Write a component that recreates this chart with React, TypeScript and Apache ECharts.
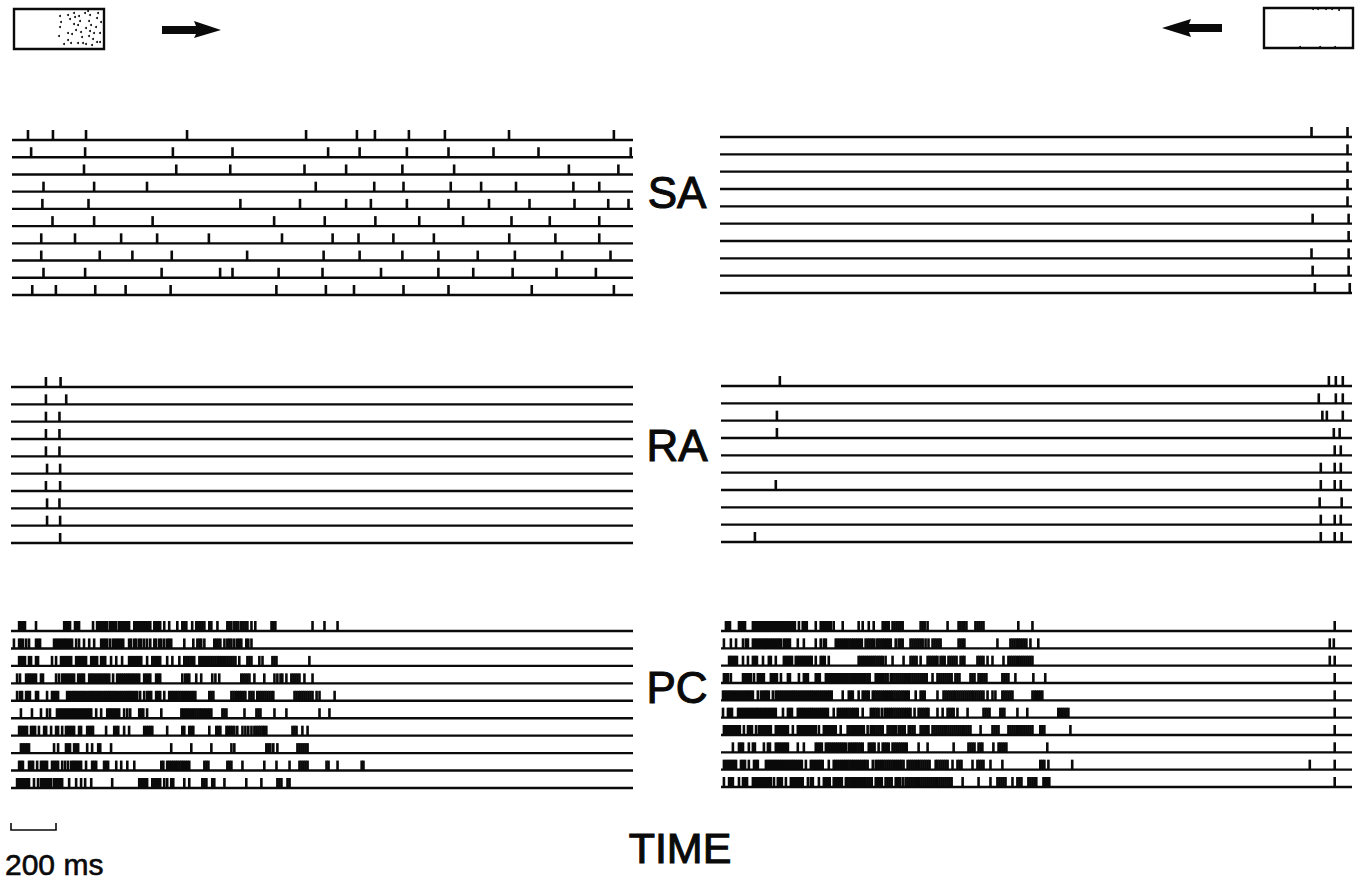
import React, { useEffect, useRef } from "react";
import * as echarts from "echarts";

// Spike times (ms) per trial, top trial first. Left = stimulus moving right, right = moving left.
const SA_LEFT = [
  [71, 182, 329, 778, 1307, 1533, 1613, 1764, 1924, 2209, 2675],
  [85, 325, 715, 980, 1405, 1545, 1755, 1940, 2140, 2340, 2750],
  [320, 730, 970, 1300, 1485, 1735, 1965, 2475, 2695],
  [140, 365, 600, 1350, 1610, 1740, 1950, 2085, 2240, 2495, 2610],
  [135, 340, 1015, 1280, 1485, 1595, 1755, 1940, 2120, 2300, 2500, 2650, 2740],
  [180, 365, 625, 1165, 1390, 1615, 1810, 2005, 2220, 2390, 2610],
  [130, 280, 485, 645, 875, 1200, 1425, 1540, 1695, 1875, 2210, 2415, 2610],
  [130, 390, 535, 710, 1045, 1385, 1545, 1735, 1895, 2070, 2235, 2445, 2660],
  [140, 325, 665, 925, 980, 1185, 1380, 1640, 1895, 2050, 2225, 2420, 2595],
  [90, 195, 370, 505, 705, 1175, 1395, 1520, 1740, 1940, 2310, 2675],
];
const SA_RIGHT = [
  [2630, 2790], [2790], [2790], [2790], [2790],
  [2635, 2795], [2795], [2630, 2795], [2635, 2795], [2645, 2800],
];
const RA_LEFT = [
  [155, 220], [155, 245], [155, 215], [155, 215], [155, 215],
  [160, 218], [155, 218], [160, 215], [160, 218], [218],
];
const RA_RIGHT = [
  [262, 2707, 2738, 2769],
  [2662, 2738, 2769],
  [249, 2678, 2698, 2769],
  [249, 2729, 2755],
  [2733, 2760],
  [2671, 2733, 2760],
  [244, 2671, 2733, 2760],
  [2666, 2764],
  [2671, 2733, 2760],
  [151, 2671, 2733, 2764],
];
const PC_LEFT = [
  [36,44,53,62,111,236,244,253,262,284,293,302,364,382,391,400,409,418,427,440,449,458,467,480,489,498,507,516,524,547,556,564,573,582,591,600,609,618,636,644,653,662,680,702,738,760,769,778,804,822,831,840,849,858,880,889,916,960,969,978,991,1000,1009,1022,1031,1040,1049,1067,1084,1156,1164,1173,1338,1391,1449],
  [13,36,44,53,67,80,111,120,129,191,200,209,218,227,236,244,253,262,271,289,302,324,347,369,400,409,418,427,440,453,462,471,480,489,498,524,533,547,556,569,578,591,604,618,636,644,658,667,680,693,702,711,769,809,827,836,844,858,902,911,920,929,947,960,969,978,991,1004,1013,1022,1044,1053,1067],
  [36,44,53,62,80,89,111,120,182,200,222,231,240,249,258,267,289,298,307,316,324,333,356,364,373,382,400,409,418,444,467,493,524,533,542,551,560,569,578,604,627,636,644,653,662,693,716,747,769,778,787,796,804,813,836,844,853,862,871,880,889,898,907,916,924,933,942,951,960,969,978,987,996,1013,1049,1058,1067,1102,1116,1160,1169,1178,1324],
  [27,40,67,76,84,93,102,111,133,142,200,213,227,236,244,253,262,271,280,298,307,316,324,347,356,364,373,382,391,400,409,418,427,436,453,471,480,489,498,507,516,524,533,542,551,560,569,591,600,609,618,644,653,662,760,773,782,791,822,844,893,907,924,1022,1031,1040,1049,1058,1080,1124,1169,1182,1196,1204,1222,1244,1253,1262,1271,1280,1302,1338],
  [27,40,49,67,76,84,111,120,160,182,191,200,209,249,258,267,276,284,293,302,311,320,329,338,347,356,364,373,382,391,400,409,418,427,436,444,453,462,471,480,489,498,507,516,524,533,542,551,560,573,591,604,613,622,644,653,662,680,702,711,720,729,738,747,756,764,773,782,791,800,809,818,880,889,898,978,987,996,1004,1013,1022,1031,1040,1058,1067,1076,1093,1102,1111,1120,1129,1138,1147,1156,1164,1258,1267,1276,1284,1293,1302,1311,1320,1329,1338,1356,1369,1436],
  [44,93,133,160,173,204,213,222,231,240,249,258,267,276,284,293,302,311,320,329,338,347,356,378,400,427,436,444,453,462,471,480,502,516,529,569,578,587,604,667,756,764,773,782,791,800,809,818,827,836,844,853,862,871,880,889,938,947,956,1036,1089,1098,1107,1169,1222,1369,1413],
  [36,44,53,62,71,89,98,107,124,147,156,178,200,209,227,244,253,262,271,280,302,311,338,347,356,364,422,458,467,476,502,524,591,600,609,618,627,693,760,769,791,800,809,880,911,920,929,956,964,973,982,991,1004,1027,1040,1053,1067,1080,1089,1098,1107,1116,1124,1133,1249,1258,1267,1293,1316],
  [44,53,62,71,80,191,209,244,253,262,280,289,298,338,360,387,396,444,711,800,889,978,991,1133,1142,1151,1164,1182,1271,1280,1289,1298,1307,1316],
  [36,44,53,80,89,98,116,133,142,151,160,182,191,200,209,227,240,253,267,276,284,293,302,311,333,360,369,378,413,422,431,467,489,516,547,667,676,693,702,711,720,729,738,747,756,764,773,782,791,858,867,876,960,969,978,1027,1124,1178,1236,1280,1289,1298,1307,1316,1400,1409,1449,1556,1564],
  [27,36,44,53,62,71,80,102,120,133,142,151,160,169,178,191,200,209,218,227,258,289,311,329,356,449,569,578,587,596,604,627,636,644,653,662,680,693,711,720,769,791,849,858,867,893,902,947,1044,1111,1182,1191,1200,1227,1236],
];
const PC_RIGHT = [
  [22,31,40,80,89,98,107,142,151,160,169,178,187,196,204,213,222,231,240,249,258,267,276,284,293,302,311,320,329,347,364,373,382,422,444,453,462,471,480,489,502,542,613,631,658,680,720,729,738,747,764,773,782,791,800,809,889,898,907,920,1009,1058,1067,1076,1084,1093,1133,1142,1151,1160,1169,1324,1387,2733],
  [13,44,67,98,111,120,142,151,160,169,178,187,196,204,213,222,231,240,249,258,267,280,289,298,307,342,369,422,444,458,467,511,520,529,538,547,556,564,573,582,591,600,609,618,627,644,653,662,671,680,693,702,711,720,729,738,747,756,778,791,800,809,844,853,862,871,880,889,898,911,924,942,951,960,969,978,1058,1067,1076,1084,1231,1289,1298,1307,1316,1324,1333,1342,1351,1360,1378,1413,2711,2729],
  [36,44,53,62,71,98,120,142,151,160,187,213,222,244,280,289,298,307,316,333,342,351,360,369,378,387,396,404,422,444,453,462,480,613,622,631,640,649,658,667,676,684,693,702,711,720,733,764,813,844,853,862,871,889,920,929,938,947,956,964,978,987,996,1013,1022,1031,1040,1049,1067,1076,1084,1142,1151,1160,1169,1187,1209,1258,1280,1289,1298,1307,1316,1324,1333,1342,1351,1360,1369,1378,1387,2711,2733],
  [13,22,31,44,98,107,116,124,133,147,164,173,182,191,222,231,240,249,267,298,307,347,369,378,387,422,431,440,467,476,484,493,502,511,520,529,538,547,556,564,573,582,591,600,609,618,627,636,644,653,662,689,698,707,716,724,733,742,756,764,773,782,791,800,809,818,827,836,844,853,862,871,880,889,898,907,916,942,964,973,982,991,1000,1009,1018,1027,1044,1053,1062,1111,1120,1129,1147,1156,1164,1173,1182,1253,1262,1271,1280,1311,1391,1444,2733],
  [9,18,27,36,44,53,62,71,80,89,98,107,116,124,133,142,164,178,187,196,204,213,231,244,253,262,271,280,289,298,307,316,324,333,342,351,360,369,378,387,396,404,413,422,431,440,449,458,467,476,484,493,542,569,578,587,613,631,640,649,658,676,684,693,702,711,720,729,738,747,756,764,773,782,791,800,809,818,827,836,867,889,898,907,964,991,1000,1009,1018,1027,1036,1044,1053,1062,1071,1080,1089,1098,1107,1116,1124,1133,1142,1151,1160,1169,1187,1209,1222,1253,1262,1271,1280,1289,1298,1387,1396,1404,1413,1422,1431,2733],
  [9,31,40,49,76,84,93,102,111,120,129,138,147,156,164,173,182,191,200,209,218,227,236,244,276,298,307,316,342,351,360,369,378,387,396,404,413,422,431,440,449,458,467,476,502,520,529,538,547,556,564,573,582,591,600,609,631,667,676,684,693,702,716,729,738,747,756,764,773,782,791,800,809,818,827,836,844,862,880,889,898,907,916,924,964,987,1009,1018,1027,1036,1053,1098,1169,1178,1187,1196,1244,1253,1262,1320,1364,1502,1511,1520,1529,1538,1547,2733],
  [13,22,31,40,49,58,67,76,84,102,120,129,138,156,169,178,187,196,204,213,222,244,253,262,271,280,289,298,320,342,351,360,369,378,387,396,404,413,422,436,458,467,476,484,493,502,511,533,564,573,582,591,600,609,618,627,636,653,667,676,684,693,702,711,720,742,751,760,769,778,791,800,809,818,836,844,853,862,889,898,907,916,924,942,951,960,969,978,987,996,1004,1013,1022,1031,1040,1049,1058,1067,1076,1084,1093,1102,1111,1156,1209,1218,1227,1236,1280,1289,1298,1307,1316,1324,1333,1342,1351,1360,1369,1378,1387,1422,1431,1440,1556,2733],
  [53,80,89,98,124,142,151,191,209,218,244,253,262,271,280,289,298,342,369,422,431,440,449,467,476,484,493,502,511,520,529,538,547,556,569,578,587,596,604,613,622,631,658,667,676,684,702,720,729,738,747,764,773,782,791,800,809,818,827,880,920,1036,1102,1111,1120,1129,1147,1156,1164,1213,1236,1244,1253,1262,1271,1453,2733],
  [13,22,31,40,49,58,67,89,98,107,124,147,156,164,200,209,218,227,236,244,253,262,271,280,289,298,307,316,324,333,342,351,360,378,400,409,418,427,436,444,453,480,502,511,520,529,538,547,556,564,573,582,591,600,609,618,627,636,644,653,676,689,698,707,716,724,733,742,751,760,769,778,787,796,804,813,831,840,849,858,867,876,884,893,902,911,920,929,956,964,973,982,991,1000,1009,1031,1053,1062,1071,1120,1142,1151,1160,1169,1200,1253,1422,1431,1440,1458,1564,2622,2733],
  [13,36,44,53,80,98,107,116,142,151,160,169,178,187,196,204,213,222,236,253,262,271,289,311,320,329,338,347,356,364,387,400,409,436,458,467,476,484,502,511,520,529,538,556,564,573,582,591,600,609,618,627,636,644,653,662,671,689,698,707,716,733,742,751,760,778,787,796,809,822,831,840,849,858,867,876,884,893,902,911,920,929,938,947,956,964,973,982,991,1000,1009,1018,1027,1076,1147,1200,1231,1240,1249,1258,1267,1298,1320,1329,1338,1369,1378,1387,1396,1404,1436,1444,1453,1462,2733],
];

const LEFT_DURATION = 2760; // ms shown in left column
const RIGHT_DURATION = 2810; // ms shown in right column
const SCALE_MS = 200;
const ROW_LABELS = ["SA", "RA", "PC"];

const PANELS = [
  { rows: SA_LEFT, dur: LEFT_DURATION, left: 12, width: 621, top: 140, height: 155 },
  { rows: SA_RIGHT, dur: RIGHT_DURATION, left: 720, width: 632, top: 137, height: 156 },
  { rows: RA_LEFT, dur: LEFT_DURATION, left: 11, width: 622, top: 387, height: 156 },
  { rows: RA_RIGHT, dur: RIGHT_DURATION, left: 721, width: 631, top: 386, height: 156 },
  { rows: PC_LEFT, dur: LEFT_DURATION, left: 11, width: 622, top: 631, height: 157 },
  { rows: PC_RIGHT, dur: RIGHT_DURATION, left: 721, width: 631, top: 631, height: 156 },
];

const TICK_H = 10;
const INK = "#0a0a0a";
const FONT = "'Liberation Sans', Arial, Helvetica, sans-serif";

const BOX_DOTS = [
  [60,16],[61,22],[60,27],[59,36],[68,15],[70,19],[74,13],[75,17],[74,24],[76,30],[68,33],[72,34],
  [68,40],[71,43],[79,16],[80,21],[78,25],[81,32],[82,37],[78,43],[83,43],[88,11],[90,15],[89,21],
  [91,25],[90,31],[89,36],[93,39],[97,42],[100,42],[97,18],[96,27],[98,13],[101,22],[100,33],[85,13],
  [86,28],[94,33],[64,44],[86,44],[92,45],
];
const BOX2_DOTS = [[1313,9],[1318,9],[1326,9],[1332,9],[1339,10],[1300,47],[1320,47],[1335,47]];

export default function App() {
  const ref = useRef<HTMLDivElement>(null);
  useEffect(() => {
    document.body.style.margin = "0";
    document.body.style.overflow = "hidden";
    if (!ref.current) return;
    const chart = echarts.init(ref.current, undefined, { renderer: "svg" });

    const grid: any[] = [];
    const xAxis: any[] = [];
    const yAxis: any[] = [];
    const series: any[] = [];
    PANELS.forEach((p, k) => {
      grid.push({ left: p.left, width: p.width, top: p.top, height: p.height });
      xAxis.push({ gridIndex: k, type: "value", min: 0, max: p.dur, show: false });
      yAxis.push({ gridIndex: k, type: "value", min: 0, max: p.rows.length - 1, inverse: true, show: false });
      const dur = p.dur;
      series.push({
        type: "custom",
        xAxisIndex: k,
        yAxisIndex: k,
        silent: true,
        data: p.rows.map((_, i) => [0, i]),
        renderItem: (params: any, api: any) => {
          const a = api.coord([0, api.value(1)]);
          const b = api.coord([dur, api.value(1)]);
          return {
            type: "line",
            shape: { x1: a[0], y1: a[1], x2: b[0], y2: b[1] },
            style: { stroke: INK, lineWidth: 2.4 },
          };
        },
      });
      series.push({
        type: "custom",
        xAxisIndex: k,
        yAxisIndex: k,
        silent: true,
        data: p.rows.flatMap((r, i) => r.map((t) => [t, i])),
        renderItem: (params: any, api: any) => {
          const c = api.coord([api.value(0), api.value(1)]);
          return {
            type: "line",
            shape: { x1: c[0], y1: c[1], x2: c[0], y2: c[1] - TICK_H },
            style: { stroke: INK, lineWidth: 2.6 },
          };
        },
      });
    });

    const scalePx = (SCALE_MS / LEFT_DURATION) * PANELS[0].width;
    const labelY = [192, 445, 687];
    const heavy = { stroke: INK, lineWidth: 1.1 };

    const graphic: any[] = [
      // stimulus boxes and arrows
      { type: "rect", shape: { x: 14, y: 9, width: 90, height: 40 }, style: { fill: "none", stroke: INK, lineWidth: 2.4 } },
      ...BOX_DOTS.map(([x, y]) => ({ type: "circle", shape: { cx: x, cy: y, r: 1 }, style: { fill: INK } })),
      { type: "polygon", shape: { points: [[162, 26], [196, 26], [194, 21], [221, 30], [194, 38], [196, 34], [162, 34]] }, style: { fill: INK } },
      { type: "polygon", shape: { points: [[1222, 24], [1189, 24], [1191, 19], [1162, 28], [1191, 37], [1189, 32], [1222, 32]] }, style: { fill: INK } },
      { type: "rect", shape: { x: 1264, y: 8, width: 89, height: 40 }, style: { fill: "none", stroke: INK, lineWidth: 2.4 } },
      ...BOX2_DOTS.map(([x, y]) => ({ type: "circle", shape: { cx: x, cy: y, r: 1 }, style: { fill: INK } })),
      // row labels
      ...ROW_LABELS.map((t, i) => ({
        type: "text",
        x: 677,
        y: labelY[i],
        style: { text: t, fill: INK, ...heavy, fontSize: 44, fontFamily: FONT, align: "center", verticalAlign: "middle" },
      })),
      {
        type: "text",
        x: 680,
        y: 848,
        style: { text: "TIME", fill: INK, ...heavy, fontSize: 43, fontFamily: FONT, align: "center", verticalAlign: "middle" },
      },
      // scale bar
      {
        type: "polyline",
        shape: { points: [[11, 823], [11, 830], [11 + scalePx, 830], [11 + scalePx, 823]] },
        style: { stroke: INK, lineWidth: 1.6, fill: "none" },
      },
      {
        type: "text",
        x: 5,
        y: 864,
        style: { text: "200 ms", fill: INK, stroke: INK, lineWidth: 0.6, fontSize: 30, fontFamily: FONT, align: "left", verticalAlign: "middle" },
      },
    ];

    chart.setOption({
      animation: false,
      backgroundColor: "#fff",
      grid,
      xAxis,
      yAxis,
      series,
      graphic,
    });
    return () => chart.dispose();
  }, []);
  return <div ref={ref} style={{ width: 1365, height: 882 }} />;
}
